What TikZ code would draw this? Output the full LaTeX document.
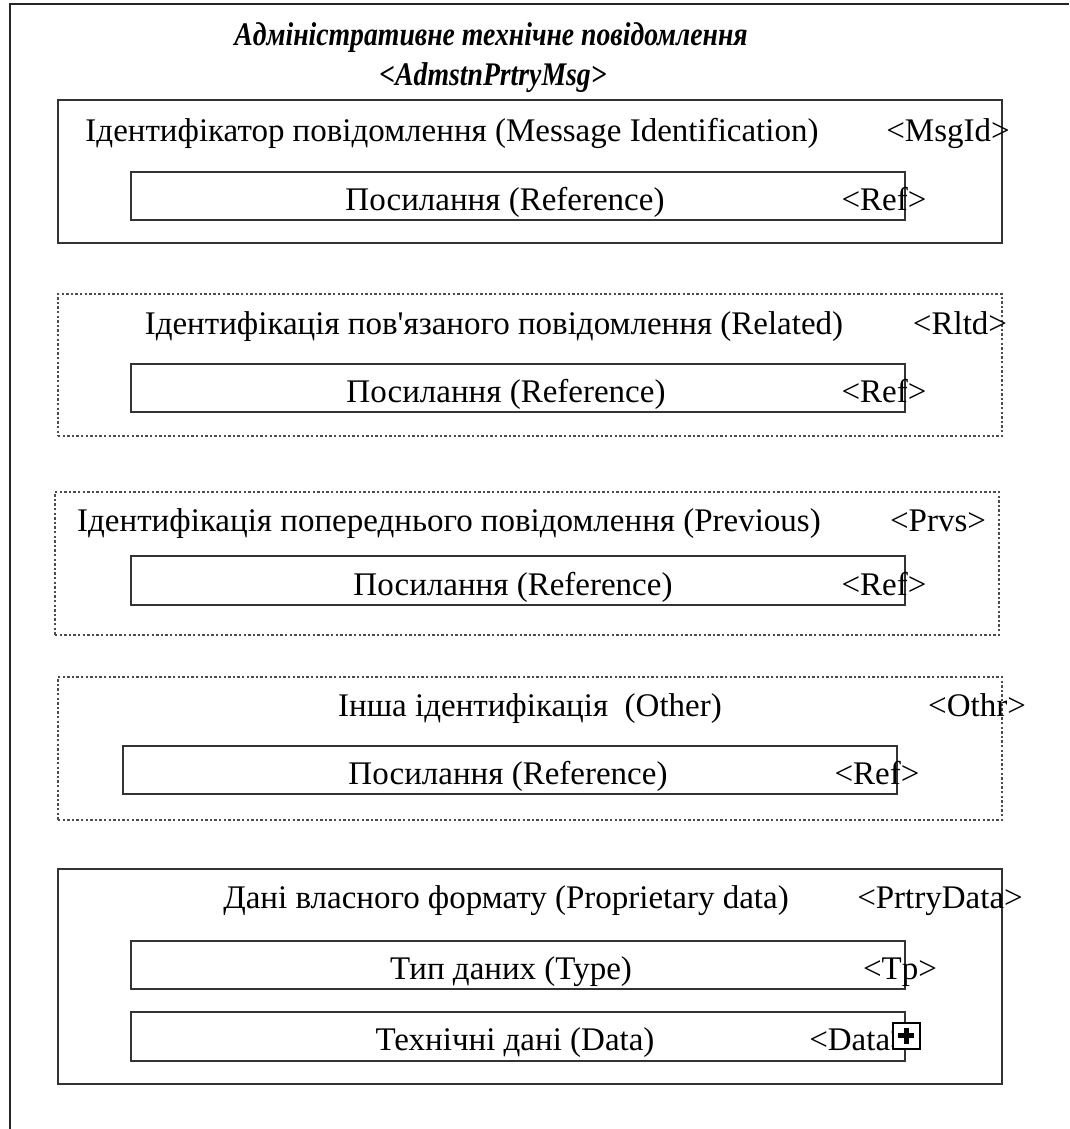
\documentclass[tikz,border=0pt]{standalone}
\usepackage{fontspec}
\setmainfont{Liberation Serif}[Ligatures=TeXOff]
\begin{document}
\begin{tikzpicture}[x=1pt,y=-1pt,
  frameline/.style={draw=black!85,line width=1.6pt},
  solidbox/.style={draw=black!80,line width=1.3pt,rectangle,inner sep=0pt},
  dotbox/.style={draw=black!70,line width=1.2pt,dash pattern=on 2.4pt off 2.2pt,rectangle,inner sep=0pt},
  innerbox/.style={draw=black!80,line width=1.3pt,rectangle,inner sep=0pt,minimum width=774pt,minimum height=48pt},
  txt/.style={inner sep=0pt,anchor=base,font=\fontsize{33}{39}\selectfont},
  ttl/.style={inner sep=0pt,anchor=base,font=\fontsize{33}{39}\selectfont\bfseries\itshape},
  plusbox/.style={draw=black,line width=2pt,fill=white,rectangle,inner sep=0pt,minimum width=27pt,minimum height=26pt}
]
\useasboundingbox (0,0) rectangle (1069,1129);
% outer frame (partly cut off)
\coordinate (fTR) at (1069,4);
\coordinate (fTL) at (10,4);
\coordinate (fBL) at (10,1129);
\draw[frameline] (fTR) -- (fTL) -- (fBL);
% title
\node[ttl,xscale=0.84] (t1) at (491,46) {Адміністративне технічне повідомлення};
\node[ttl,xscale=0.84] (t2) at (493,86) {<AdmstnPrtryMsg>};
% box 1
\node[solidbox,minimum width=944pt,minimum height=143pt] (b1) at (530,171.5) {};
\node[txt] (b1t) at (452,141) {Ідентифікатор повідомлення (Message Identification)};
\node[txt] (b1l) at (948,141) {<MsgId>};
\node[innerbox] (i1) at (518,196) {};
\node[txt] (i1t) at (505,210) {Посилання (Reference)};
\node[txt] (i1l) at (884,210) {<Ref>};
% box 2
\node[dotbox,minimum width=944pt,minimum height=142pt] (b2) at (530,365) {};
\node[txt] (b2t) at (494,334) {Ідентифікація пов'язаного повідомлення (Related)};
\node[txt] (b2l) at (960,334) {<Rltd>};
\node[innerbox] (i2) at (518,388) {};
\node[txt] (i2t) at (506,402) {Посилання (Reference)};
\node[txt] (i2l) at (884,402) {<Ref>};
% box 3
\node[dotbox,minimum width=944pt,minimum height=143pt] (b3) at (527,563.5) {};
\node[txt] (b3t) at (449,531) {Ідентифікація попереднього повідомлення (Previous)};
\node[txt] (b3l) at (938,531) {<Prvs>};
\node[innerbox,minimum height=49pt] (i3) at (518,580.5) {};
\node[txt] (i3t) at (513,595) {Посилання (Reference)};
\node[txt] (i3l) at (884,595) {<Ref>};
% box 4
\node[dotbox,minimum width=944pt,minimum height=143pt] (b4) at (530,748.5) {};
\node[txt] (b4t) at (530,716) {Інша ідентифікація \ (Other)};
\node[txt] (b4l) at (977,716) {<Othr>};
\node[innerbox] (i4) at (510,770) {};
\node[txt] (i4t) at (508,784) {Посилання (Reference)};
\node[txt] (i4l) at (877,784) {<Ref>};
% box 5
\node[solidbox,minimum width=944pt,minimum height=215pt] (b5) at (530,976.5) {};
\node[txt] (b5t) at (506,908) {Дані власного формату (Proprietary data)};
\node[txt] (b5l) at (940,908) {<PrtryData>};
\node[innerbox] (i5) at (518,965) {};
\node[txt] (i5t) at (511,979) {Тип даних (Type)};
\node[txt] (i5l) at (900,979) {<Tp>};
\node[innerbox,minimum height=49pt] (i6) at (518,1036.5) {};
\node[txt] (i6t) at (515,1050) {Технічні дані (Data)};
\node[txt] (i6l) at (859,1050) {<Data>};
% expand icon
\node[plusbox] (pl) at (906,1035.5) {};
\draw[line width=5pt] ([xshift=-8pt]pl.center) -- ([xshift=8pt]pl.center);
\draw[line width=5pt] ([yshift=-8pt]pl.center) -- ([yshift=8pt]pl.center);
\end{tikzpicture}
\end{document}
